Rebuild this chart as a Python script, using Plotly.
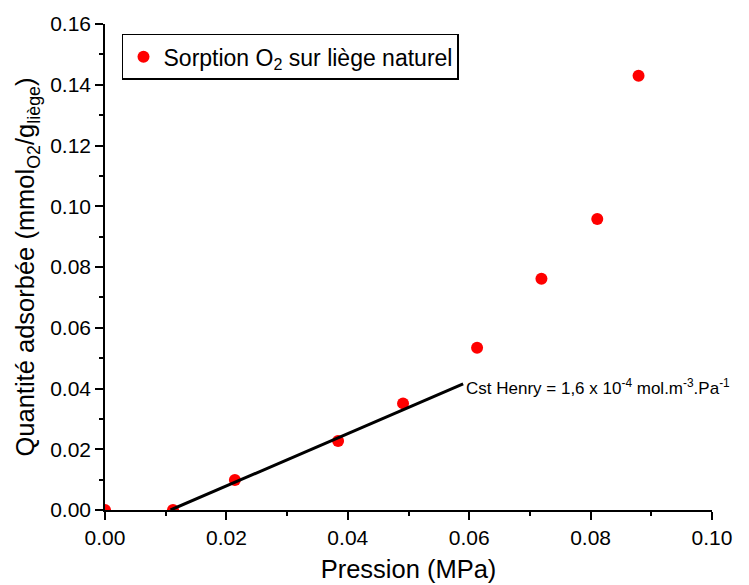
import plotly.graph_objects as go

# Sorption data
pression = [0.0, 0.0112, 0.0214, 0.0384, 0.0491, 0.0613, 0.0719, 0.0811, 0.0879]
quantite = [0.0, 0.0, 0.0099, 0.0227, 0.0351, 0.0534, 0.0761, 0.0958, 0.1430]

# Henry fit line (linear part)
henry_x = [0.0108, 0.0590]
henry_y = [0.0, 0.0415]

x_ticks = [0.0, 0.02, 0.04, 0.06, 0.08, 0.10]
y_ticks = [0.0, 0.02, 0.04, 0.06, 0.08, 0.10, 0.12, 0.14, 0.16]

FONT = 'Liberation Sans, Arial'

fig = go.Figure()

fig.add_trace(go.Scatter(
    x=pression, y=quantite,
    mode='markers',
    marker=dict(color='#ff0000', size=12),
    name='Sorption O<sub>2</sub> sur liège naturel'
))

fig.add_trace(go.Scatter(
    x=henry_x, y=henry_y,
    mode='lines',
    line=dict(color='black', width=3),
    showlegend=False
))

fig.add_annotation(
    x=henry_x[1], y=henry_y[1],
    xref='x', yref='y',
    text='Cst Henry = 1,6 x 10<sup>-4</sup> mol.m<sup>-3</sup>.Pa<sup>-1</sup>',
    showarrow=False,
    xanchor='left', yanchor='middle',
    xshift=1, yshift=-3,
    font=dict(family=FONT, size=17, color='black')
)

axis_common = dict(
    showgrid=False, zeroline=False, automargin=False,
    showline=True, linecolor='black', linewidth=1.5,
    ticks='outside', ticklen=8, tickwidth=1.5, tickcolor='black',
    tickfont=dict(family=FONT, size=21, color='black'),
    minor=dict(ticks='outside', ticklen=4, tickwidth=1.5, tickcolor='black', dtick=0.01),
    mirror=False,
)

# the page body adds 8px, so margins are trimmed by that
fig.update_layout(
    width=749, height=585,
    margin=dict(l=97, r=45, t=16, b=83),
    plot_bgcolor='white', paper_bgcolor='white',
    font=dict(family=FONT, color='black'),
    xaxis=dict(
        range=[0, 0.10],
        tickvals=x_ticks, tickformat='.2f',
        title=dict(text='Pression (MPa)', font=dict(size=25.5), standoff=12),
        **axis_common
    ),
    yaxis=dict(
        range=[0, 0.16],
        tickvals=y_ticks, tickformat='.2f',
        title=dict(text='Quantité adsorbée (mmol<sub>O2</sub>/g<sub>liège</sub>)',
                   font=dict(size=25.5), standoff=8),
        **axis_common
    ),
    legend=dict(
        x=0.028, y=0.98, xanchor='left', yanchor='top',
        bordercolor='black', borderwidth=1.5, bgcolor='white',
        font=dict(family=FONT, size=23, color='black'),
        itemsizing='constant',
    ),
)

fig.write_html("out.html")
